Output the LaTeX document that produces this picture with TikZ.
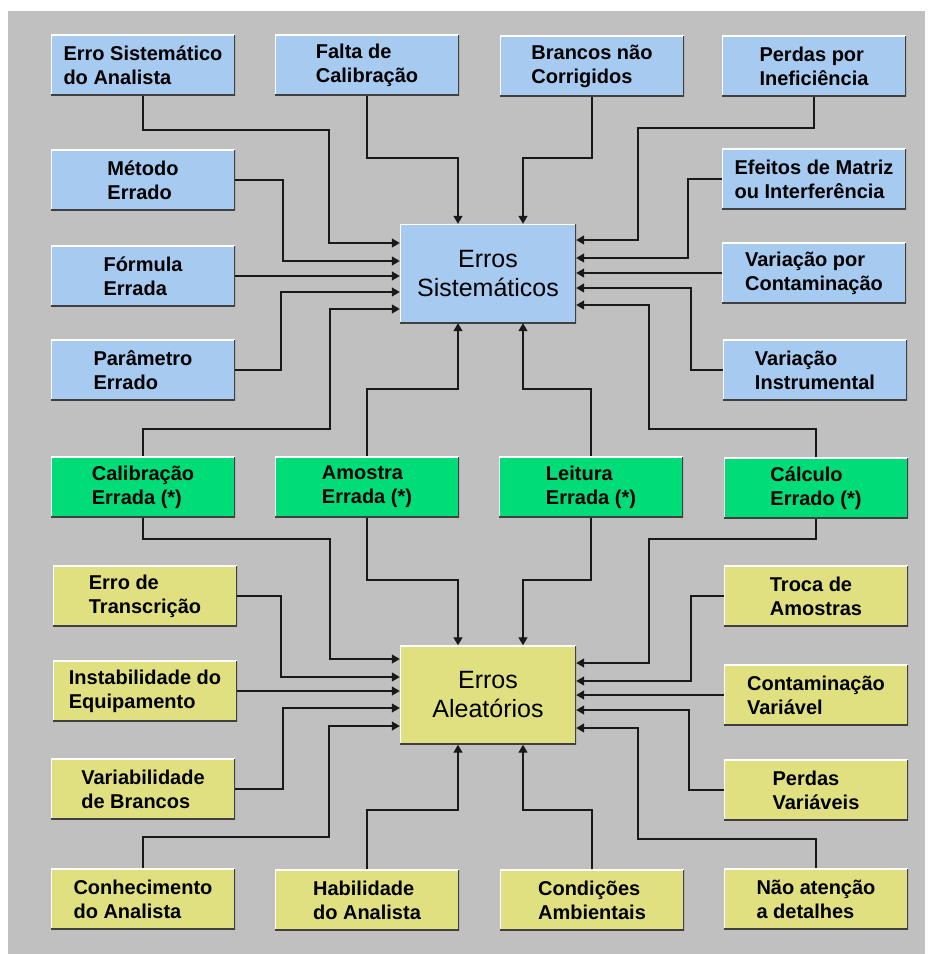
\documentclass[tikz,border=0pt]{standalone}
\usepackage{fontspec}
\setmainfont{Liberation Sans}
\usetikzlibrary{arrows.meta}
\definecolor{azul}{HTML}{A6CAF0}
\definecolor{verde}{HTML}{00DC78}
\definecolor{amarelo}{HTML}{E0E080}
\definecolor{fundo}{HTML}{C0C0C0}

\begin{document}
\begin{tikzpicture}[x=1pt, y=-1pt, >={Triangle[length=8pt,width=9pt]},
  caixa/.style = {minimum width=184pt, minimum height=61pt, inner sep=0pt, align=left,
    font=\bfseries\fontsize{20}{24}\selectfont,
    path picture={\draw[white, line width=2pt] (path picture bounding box.south west) |- (path picture bounding box.north east);
      \draw[black!75, line width=3pt] (path picture bounding box.south west) -| (path picture bounding box.north east);}},
  sis/.style = {caixa, fill=azul},
  ambos/.style = {caixa, fill=verde},
  ale/.style = {caixa, fill=amarelo},
  centro/.style = {minimum width=176pt, minimum height=99pt, align=center},
  liga/.style = {->, line width=1.3pt, black!90}]
  \useasboundingbox (0,0) rectangle (933,954);
  \fill[fundo] (8,11) rectangle (925,954);

  \node[sis] (1) at (143,65) {Erro Sistemático\\do Analista};
  \node[sis] (2) at (367,65) {Falta de\\Calibração};
  \node[sis] (3) at (592,66) {Brancos não\\Corrigidos};
  \node[sis] (4) at (814,66) {Perdas por\\Ineficiência};
  \node[sis] (5) at (143,180) {Método\\Errado};
  \node[sis] (6) at (814,179) {Efeitos de Matriz\\ou Interferência};
  \node[sis] (7) at (143,276) {Fórmula\\Errada};
  \node[sis] (8) at (814,273) {Variação por\\Contaminação};
  \node[sis] (9) at (143,370) {Parâmetro\\Errado};
  \node[sis] (10) at (815,370) {Variação\\Instrumental};
  \node[sis, centro, font=\fontsize{25}{29}\selectfont] (S) at (488,273.5) {Erros\\Sistemáticos};

  \node[ambos] (11) at (143,487) {Calibração\\Errada (*)};
  \node[ambos] (12) at (367,487) {Amostra\\Errada (*)};
  \node[ambos] (13) at (591,487) {Leitura\\Errada (*)};
  \node[ambos] (14) at (816,488) {Cálculo\\Errado (*)};

  \node[ale] (15) at (145,596) {Erro de\\Transcrição};
  \node[ale] (16) at (816,596) {Troca de\\Amostras};
  \node[ale] (17) at (145,691) {Instabilidade do\\Equipamento};
  \node[ale] (18) at (816,695) {Contaminação\\Variável};
  \node[ale] (19) at (143,789) {Variabilidade\\de Brancos};
  \node[ale] (20) at (816,790) {Perdas\\Variáveis};
  \node[ale] (21) at (143,899) {Conhecimento\\do Analista};
  \node[ale] (22) at (367,900) {Habilidade\\do Analista};
  \node[ale] (23) at (592,900) {Condições\\Ambientais};
  \node[ale] (24) at (816,899) {Não atenção\\a detalhes};
  \node[ale, centro, font=\fontsize{25}{29}\selectfont] (A) at (488,695) {Erros\\Aleatórios};

  \draw[liga] (1.south) |- (329,130) |- (S.west |- 0,243);
  \draw[liga] (5.east) -| (283,261) -- (S.west |- 0,261);
  \draw[liga] (7.east) -- (S.west |- 7.east);
  \draw[liga] (9.east) -| (281,292) -- (S.west |- 0,292);
  \draw[liga] (11.north) |- (330,429) |- (S.west |- 0,309);
  \draw[liga] (2.south) |- (458,158) -- (S.north -| 458,0);
  \draw[liga] (3.south) |- (523,158) -- (S.north -| 523,0);
  \draw[liga] (4.south) |- (638,128) |- (S.east |- 0,240);
  \draw[liga] (6.west) -| (688,258) -- (S.east |- 0,258);
  \draw[liga] (8.west) -- (S.east |- 8.west);
  \draw[liga] (10.west) -| (691,288) -- (S.east |- 0,288);
  \draw[liga] (14.north) |- (649,429) |- (S.east |- 0,305);
  \draw[liga] (12.north) |- (458,389) -- (S.south -| 458,0);
  \draw[liga] (13.north) |- (523,389) -- (S.south -| 523,0);

  \draw[liga] (12.south) |- (458,580) -- (A.north -| 458,0);
  \draw[liga] (13.south) |- (523,580) -- (A.north -| 523,0);
  \draw[liga] (11.south) |- (330,539) |- (A.west |- 0,659);
  \draw[liga] (15.east) -| (281,677) -- (A.west |- 0,677);
  \draw[liga] (17.east) -- (A.west |- 17.east);
  \draw[liga] (19.east) -| (283,708) -- (A.west |- 0,708);
  \draw[liga] (21.north) |- (329,837) |- (A.west |- 0,726);
  \draw[liga] (14.south) |- (649,539) |- (A.east |- 0,663);
  \draw[liga] (16.west) -| (691,681) -- (A.east |- 0,681);
  \draw[liga] (18.west) -- (A.east |- 18.west);
  \draw[liga] (20.west) -| (689,710) -- (A.east |- 0,710);
  \draw[liga] (24.north) |- (638,839) |- (A.east |- 0,728);
  \draw[liga] (22.north) |- (458,810) -- (A.south -| 458,0);
  \draw[liga] (23.north) |- (523,810) -- (A.south -| 523,0);
\end{tikzpicture}
\end{document}
